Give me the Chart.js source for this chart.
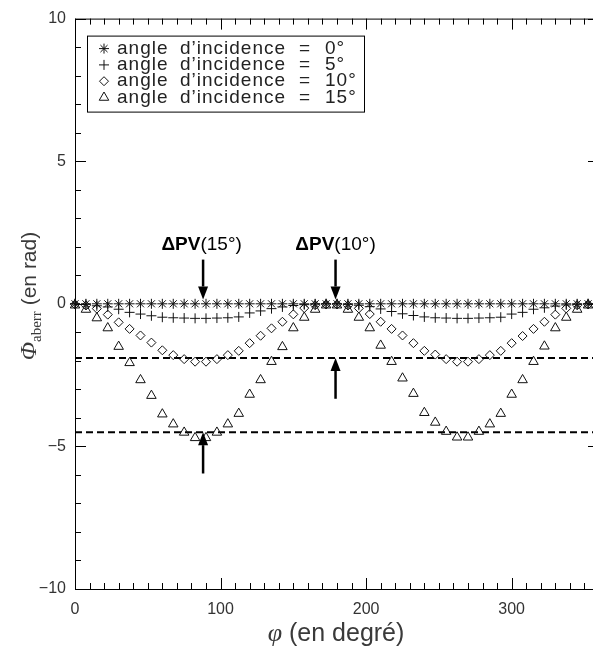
<!DOCTYPE html>
<html>
<head>
<meta charset="utf-8">
<script src="https://cdn.jsdelivr.net/npm/chart.js@4.4.1/dist/chart.umd.min.js"></script>
<style>
  html, body { margin: 0; padding: 0; background: #fff; overflow: hidden; }
  #wrap { width: 610px; height: 652px; }
</style>
</head>
<body>
<div id="wrap"><canvas id="aberrChart" width="610" height="652"></canvas></div>
<script>
// angle phi (degrees), sampled every 7.5 degrees
const phi = [0, 7.5, 15, 22.5, 30, 37.5, 45, 52.5, 60, 67.5, 75, 82.5, 90, 97.5, 105, 112.5,
  120, 127.5, 135, 142.5, 150, 157.5, 165, 172.5, 180, 187.5, 195, 202.5, 210, 217.5, 225, 232.5,
  240, 247.5, 255, 262.5, 270, 277.5, 285, 292.5, 300, 307.5, 315, 322.5, 330, 337.5, 345, 352.5, 360];

// aberration phase (rad) for each incidence angle
const phase0 = [0, 0, 0, 0, 0, 0, 0, 0, 0, 0, 0, 0, 0, 0, 0, 0,
  0, 0, 0, 0, 0, 0, 0, 0, 0, 0, 0, 0, 0, 0, 0, 0,
  0, 0, 0, 0, 0, 0, 0, 0, 0, 0, 0, 0, 0, 0, 0, 0, 0];
const phase5 = [0, -0.02, -0.07, -0.11, -0.19, -0.3, -0.36, -0.42, -0.47, -0.49, -0.5, -0.51, -0.51, -0.5, -0.49, -0.46,
  -0.32, -0.25, -0.17, -0.11, -0.06, -0.03, -0.01, 0, 0, -0.02, -0.05, -0.1, -0.18, -0.27, -0.35, -0.41,
  -0.46, -0.49, -0.5, -0.51, -0.51, -0.5, -0.49, -0.47, -0.36, -0.3, -0.19, -0.14, -0.08, -0.04, -0.02, 0, 0];
const phase10 = [-0.02, -0.06, -0.17, -0.38, -0.65, -0.88, -1.11, -1.36, -1.63, -1.8, -1.94, -2.03, -2.03, -1.94, -1.8, -1.65,
  -1.38, -1.12, -0.86, -0.63, -0.37, -0.15, -0.05, -0.02, -0.02, -0.06, -0.16, -0.36, -0.63, -0.88, -1.11, -1.38,
  -1.65, -1.78, -1.94, -2.03, -2.03, -1.94, -1.8, -1.65, -1.38, -1.13, -0.88, -0.63, -0.38, -0.16, -0.05, -0.02, -0.02];
const phase15 = [-0.05, -0.2, -0.5, -0.85, -1.5, -2.07, -2.67, -3.22, -3.87, -4.22, -4.51, -4.7, -4.7, -4.51, -4.22, -3.85,
  -3.18, -2.67, -2.03, -1.51, -0.85, -0.48, -0.2, -0.05, -0.05, -0.2, -0.48, -0.85, -1.46, -2.03, -2.61, -3.15,
  -3.82, -4.16, -4.48, -4.68, -4.68, -4.48, -4.22, -3.85, -3.18, -2.67, -2.03, -1.49, -0.85, -0.48, -0.2, -0.05, -0.05];

const seriesLabels = ['0°', '5°', '10°', '15°'];

// peak-to-valley levels (dashed lines) and arrows
const pvLevels = [-1.9, -4.5];
const arrowPhi = [88, 179, 179, 88];
const arrowFrom = [1.55, 1.55, -3.33, -5.95];
const arrowTo = [0.15, 0.15, -1.9, -4.5];
const pvLabelPhi = [87, 179];
const pvLabelText = ['(15°)', '(10°)'];
const pvLabelY = 1.88;

const xTicks = [0, 100, 200, 300];
const yTicks = [-10, -5, 0, 5, 10];

function toPoints(values) {
    return values.map((v, i) => ({ x: phi[i], y: v }));
}

const pointStyles = ['star', 'cross', 'rectRot', 'triangle'];
const pointSizes = [5, 5, 4.5, 5.5];
const allPhases = [phase0, phase5, phase10, phase15];

const datasets = allPhases.map((vals, i) => ({
    label: 'angle d’incidence = ' + seriesLabels[i],
    data: toPoints(vals),
    showLine: false,
    pointStyle: pointStyles[i],
    pointRadius: pointSizes[i],
    pointBorderWidth: 1,
    borderColor: '#111',
    backgroundColor: 'rgba(0,0,0,0)',
    clip: false,
    order: 4 - i
}));

pvLevels.forEach(level => {
    datasets.push({
        label: 'PV',
        data: [{ x: 0, y: level }, { x: 360, y: level }],
        showLine: true,
        borderColor: '#000',
        borderWidth: 2,
        borderDash: [7, 4],
        pointRadius: 0,
        order: 10
    });
});

/**
 * Frame on all four sides with inward ticks (IDL style)
 */
const frameTicks = {
    id: 'frameTicks',
    beforeDatasetsDraw(chart) {
        const { ctx, chartArea: a, scales: { x, y } } = chart;
        ctx.save();
        ctx.strokeStyle = '#000';
        ctx.lineWidth = 1;
        ctx.strokeRect(a.left + 0.5, a.top + 0.5, a.right - a.left, a.bottom - a.top);
        ctx.beginPath();
        for (let v = 0; v <= 360; v += 10) {
            const px = Math.round(x.getPixelForValue(v)) + 0.5;
            const len = v % 100 === 0 ? 11 : 6;
            ctx.moveTo(px, a.bottom); ctx.lineTo(px, a.bottom - len);
            ctx.moveTo(px, a.top); ctx.lineTo(px, a.top + len);
        }
        for (let v = -10; v <= 10; v += 1) {
            const py = Math.round(y.getPixelForValue(v)) + 0.5;
            const len = v % 5 === 0 ? 11 : 6;
            ctx.moveTo(a.left, py); ctx.lineTo(a.left + len, py);
            ctx.moveTo(a.right, py); ctx.lineTo(a.right - len, py);
        }
        ctx.stroke();
        ctx.restore();
    }
};

function drawArrow(ctx, px, y0, y1) {
    const dir = y1 > y0 ? 1 : -1;
    const headLen = 13, headHalf = 5;
    ctx.beginPath();
    ctx.moveTo(px, y0);
    ctx.lineTo(px, y1 - dir * headLen);
    ctx.stroke();
    ctx.beginPath();
    ctx.moveTo(px, y1);
    ctx.lineTo(px - headHalf, y1 - dir * headLen);
    ctx.lineTo(px + headHalf, y1 - dir * headLen);
    ctx.closePath();
    ctx.fill();
}

/**
 * Arrows, PV labels, boxed legend and the two axis titles
 */
const annotations = {
    id: 'annotations',
    afterDatasetsDraw(chart) {
        const { ctx, chartArea: a, scales: { x, y } } = chart;
        ctx.save();
        ctx.strokeStyle = '#000';
        ctx.fillStyle = '#000';
        ctx.lineWidth = 2.5;
        arrowPhi.forEach((p, i) => {
            drawArrow(ctx, x.getPixelForValue(p), y.getPixelForValue(arrowFrom[i]), y.getPixelForValue(arrowTo[i]));
        });

        // PV labels: bold delta PV + normal angle
        ctx.textBaseline = 'alphabetic';
        pvLabelPhi.forEach((p, i) => {
            const boldFont = 'bold 19px "Liberation Sans", Arial, sans-serif';
            const normFont = '19px "Liberation Sans", Arial, sans-serif';
            ctx.font = boldFont;
            const w1 = ctx.measureText('ΔPV').width;
            ctx.font = normFont;
            const w2 = ctx.measureText(pvLabelText[i]).width;
            const left = x.getPixelForValue(p) - (w1 + w2) / 2;
            const base = y.getPixelForValue(pvLabelY);
            ctx.font = boldFont;
            ctx.fillText('ΔPV', left, base);
            ctx.font = normFont;
            ctx.fillText(pvLabelText[i], left + w1, base);
        });

        // legend box
        const lx = a.left + 12, ly = a.top + 17;
        ctx.lineWidth = 1;
        ctx.strokeRect(lx + 0.5, ly + 0.5, 277, 76);
        ctx.textBaseline = 'middle';
        datasets.slice(0, 4).forEach((ds, i) => {
            const ry = ly + 13 + i * 16.3;
            if (Chart.helpers && Chart.helpers.drawPoint) {
                ctx.strokeStyle = '#111';
                ctx.fillStyle = 'rgba(0,0,0,0)';
                ctx.lineWidth = 1;
                Chart.helpers.drawPoint(ctx, { pointStyle: ds.pointStyle, radius: ds.pointRadius, borderWidth: 1, rotation: 0 }, lx + 17, ry);
            }
            ctx.font = '19px "Liberation Sans", Arial, sans-serif';
            ctx.fillStyle = '#222';
            if ('letterSpacing' in ctx) ctx.letterSpacing = '1px';
            ctx.fillText('angle', lx + 30, ry);
            ctx.fillText('d’incidence', lx + 93, ry);
            ctx.fillText('=', lx + 212, ry);
            ctx.fillText(seriesLabels[i], lx + 238, ry);
            if ('letterSpacing' in ctx) ctx.letterSpacing = '0px';
        });

        // y axis title (rotated)
        ctx.fillStyle = '#3a3a3a';
        ctx.textBaseline = 'alphabetic';
        ctx.save();
        ctx.translate(36, 296);
        ctx.rotate(-Math.PI / 2);
        const fPhi = 'italic 24px "Liberation Serif", "Times New Roman", serif';
        const fSub = '15px "Liberation Serif", "Times New Roman", serif';
        const fRest = '21px "Liberation Sans", Arial, sans-serif';
        ctx.font = fPhi; const wPhi = ctx.measureText('Φ').width;
        ctx.font = fSub; const wSub = ctx.measureText('aberr').width;
        ctx.font = fRest; const wRest = ctx.measureText(' (en rad)').width;
        let cx = -(wPhi + wSub + wRest) / 2;
        ctx.font = fPhi; ctx.fillText('Φ', cx, 0); cx += wPhi;
        ctx.font = fSub; ctx.fillText('aberr', cx, 5); cx += wSub;
        ctx.font = fRest; ctx.fillText(' (en rad)', cx, 0);
        ctx.restore();

        // x axis title
        const fphi = 'italic 26px "Liberation Serif", "Times New Roman", serif';
        const fxRest = '25px "Liberation Sans", Arial, sans-serif';
        ctx.font = fphi; const wp = ctx.measureText('φ').width;
        ctx.font = fxRest; const wr = ctx.measureText(' (en degré)').width;
        let tx = 336 - (wp + wr) / 2;
        ctx.font = fphi; ctx.fillText('φ', tx, 641);
        ctx.font = fxRest; ctx.fillText(' (en degré)', tx + wp, 641);
        ctx.restore();
    }
};

const tickFont = { family: '"Liberation Sans", Arial, sans-serif', size: 16 };

new Chart(document.getElementById('aberrChart'), {
    type: 'scatter',
    data: { datasets: datasets },
    options: {
        responsive: false,
        animation: false,
        devicePixelRatio: 1,
        layout: { padding: { top: 10, right: 11, left: 0, bottom: 0 } },
        plugins: {
            legend: { display: false },
            tooltip: { enabled: false }
        },
        scales: {
            x: {
                type: 'linear',
                min: 0,
                max: 360,
                afterFit: s => { s.height = 63; },
                afterBuildTicks: s => { s.ticks = xTicks.map(v => ({ value: v })); },
                grid: { display: false, drawTicks: false },
                border: { display: false },
                ticks: { padding: 11, maxRotation: 0, font: tickFont, color: '#333' }
            },
            y: {
                type: 'linear',
                min: -10,
                max: 10,
                afterFit: s => { s.width = 75; },
                afterBuildTicks: s => { s.ticks = yTicks.map(v => ({ value: v })); },
                grid: { display: false, drawTicks: false },
                border: { display: false },
                ticks: {
                    padding: 9,
                    font: tickFont,
                    color: '#333',
                    callback: v => (v < 0 ? '\u2212' + Math.abs(v) : String(v))
                }
            }
        }
    },
    plugins: [frameTicks, annotations]
});
</script>
</body>
</html>
